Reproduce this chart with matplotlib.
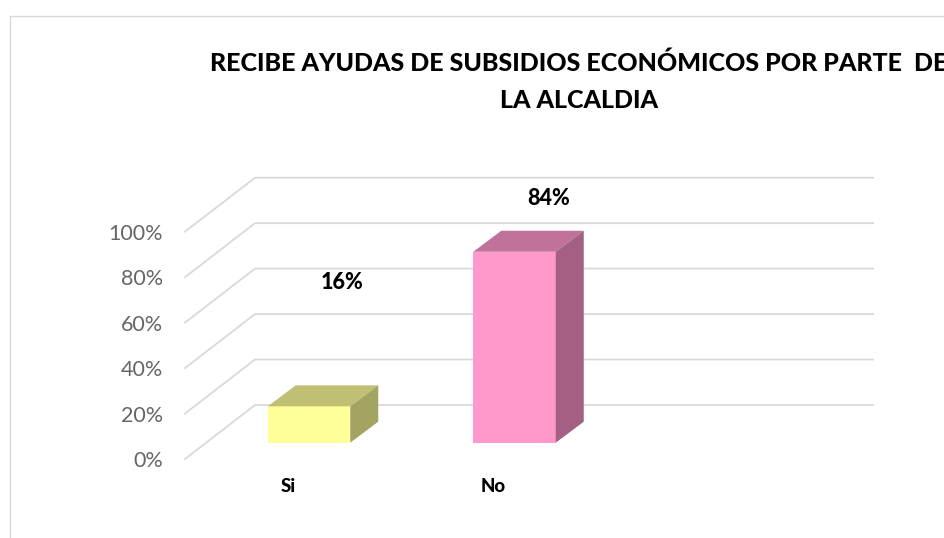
import matplotlib
matplotlib.use("Agg")
import matplotlib.pyplot as plt
from matplotlib.lines import Line2D

# values
categories = ["Si", "No"]
percent = [16, 84]
value_labels = ["16%", "84%"]
y_ticks = [0, 20, 40, 60, 80, 100]
y_tick_labels = ["0%", "20%", "40%", "60%", "80%", "100%"]
front_colors = ["#FFFF99", "#FF99CC"]
top_colors = ["#BFC074", "#C0729A"]
side_colors = ["#A3A461", "#A36082"]
title = "RECIBE AYUDAS DE SUBSIDIOS ECONÓMICOS POR PARTE  DE\nLA ALCALDIA"

W, H = 944, 538
plt.rcParams["font.family"] = ["Lato", "DejaVu Sans"]

fig = plt.figure(figsize=(W / 100, H / 100), dpi=100)

# front edge of the floor, everything else hangs off this
left, right, bottom, top = 185, 873, 459, 231.7
ax = fig.add_axes([left / W, 1 - bottom / H, (right - left) / W, (bottom - top) / H])
ax.patch.set_alpha(0)

spacing = 205.5   # px between categories
px_y = (bottom - top) / 100
ax.set_xlim((left - 309) / spacing, (right - 309) / spacing)
ax.set_ylim(0, 100)

# 3d look: depth of the wall and of the bars, in data units
wall_dx = 70 / spacing
wall_dy = 54 / px_y
bar_dx = 28 / spacing
bar_dy = 21 / px_y
bar_width = 82.5 / spacing
bar_base = 16.3 / px_y

# gridlines run across the floor side, then along the back wall
x0 = ax.get_xlim()[0]
x1 = ax.get_xlim()[1]
for t in y_ticks:
    ax.plot([x0, x0 + wall_dx, x1], [t, t + wall_dy, t + wall_dy],
            color="#D9D9D9", lw=1.3, clip_on=False, zorder=1)

for i, v in enumerate(percent):
    xl = i - bar_width / 2
    xr = i + bar_width / 2
    ytop = bar_base + v
    ax.bar(i, v, bar_width, bottom=bar_base, color=front_colors[i], zorder=3)
    ax.fill([xl, xr, xr + bar_dx, xl + bar_dx], [ytop, ytop, ytop + bar_dy, ytop + bar_dy],
            color=top_colors[i], lw=0, clip_on=False, zorder=3)
    ax.fill([xr, xr + bar_dx, xr + bar_dx, xr], [bar_base, bar_base + bar_dy, ytop + bar_dy, ytop],
            color=side_colors[i], lw=0, clip_on=False, zorder=3)

# data labels were dragged away from the bars in the original
label_offset = [(33, 124), (34.5, 53.7)]
for i, v in enumerate(percent):
    ax.annotate(value_labels[i], (i, bar_base + v),
                xytext=(label_offset[i][0] * 0.72, label_offset[i][1] * 0.72),
                textcoords="offset points", ha="center", va="center",
                fontsize=15.5, fontweight="black", color="black", annotation_clip=False)

# category labels, sit left of the bar centres
for i, c in enumerate(categories):
    ax.annotate(c, (i, 0), xytext=(-21 * 0.72, -27 * 0.72), textcoords="offset points",
                ha="center", va="center", fontsize=13.5, fontweight="black",
                color="black", annotation_clip=False)

ax.set_xticks([])
ax.set_yticks(y_ticks)
ax.set_yticklabels(y_tick_labels, fontsize=15.5, color="#666666")
ax.tick_params(axis="y", length=0, pad=15.8)
for s in ax.spines.values():
    s.set_visible(False)

fig.text(579 / W, 1 - 82 / H, title, ha="center", va="center", fontsize=18,
         fontweight="black", color="black", linespacing=1.75)

# chart area border, only top and left show in the crop
fig.add_artist(Line2D([10 / W, 10 / W, 1], [0, 1 - 15.5 / H, 1 - 15.5 / H],
                      color="#D9D9D9", lw=1.0))

fig.savefig("out.png", dpi=100, facecolor="white")
